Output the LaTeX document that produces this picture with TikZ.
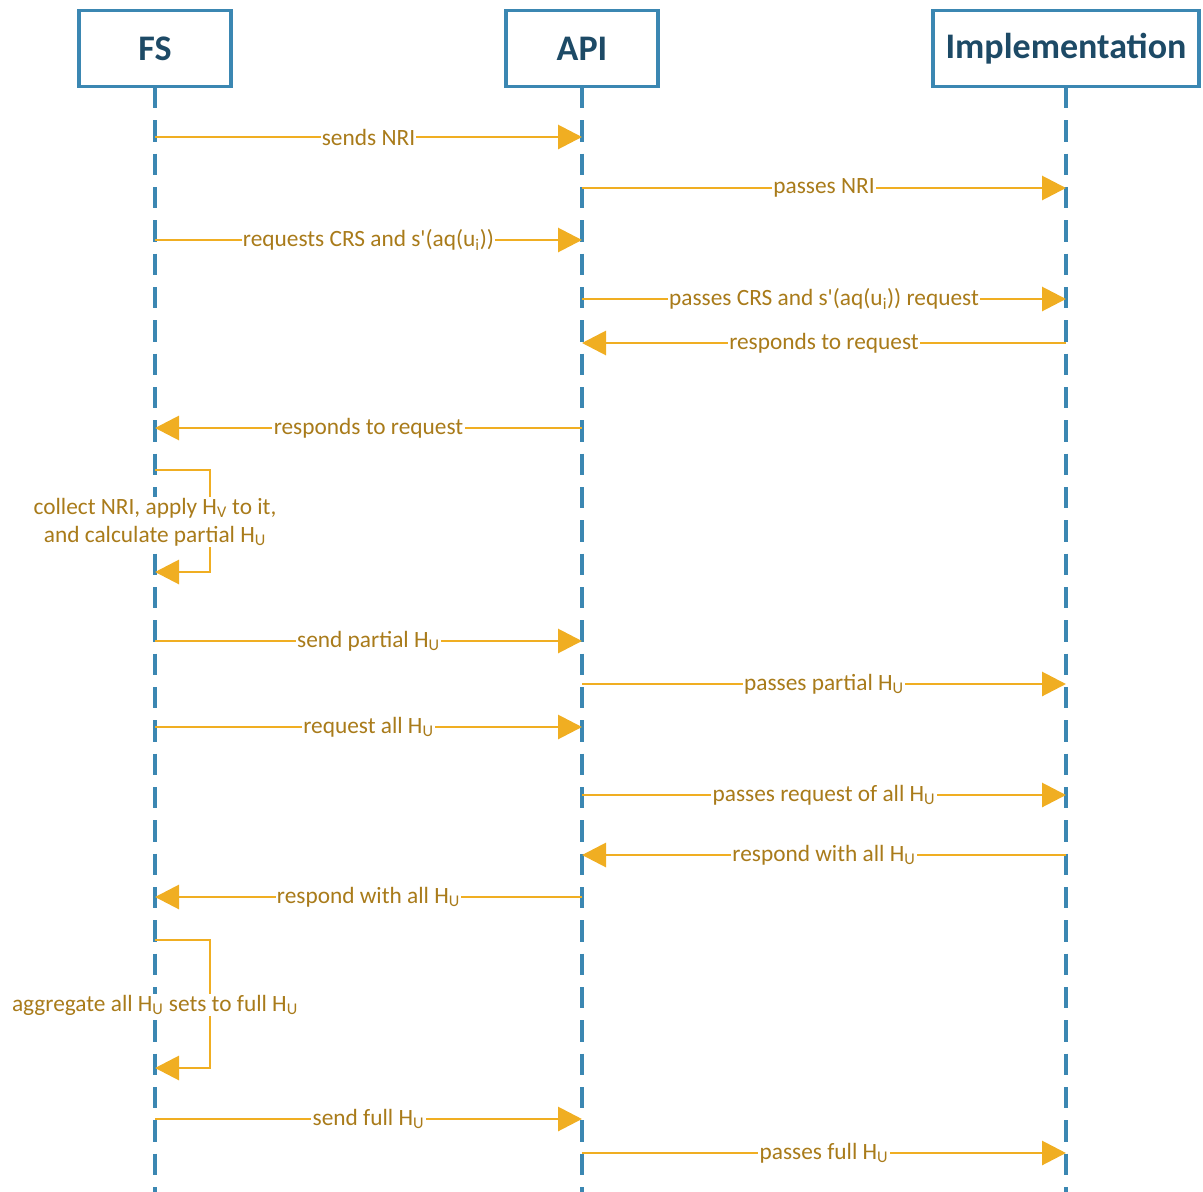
\documentclass[tikz,border=0pt]{standalone}
\usepackage{fontspec}
\setmainfont{Carlito}
\newfontfamily\plainfont{Carlito}
\usetikzlibrary{arrows.meta}
\definecolor{boxblue}{HTML}{3B87B2}
\definecolor{headtxt}{HTML}{1D4A66}
\definecolor{arr}{HTML}{F0AE22}
\definecolor{lbl}{HTML}{A97B1A}
\newcommand{\apos}{{\plainfont '}}
\tikzset{
  actor/.style={draw=boxblue, line width=2.4pt, fill=white, inner sep=0pt, font=\bfseries\fontsize{27}{30}\selectfont, text=headtxt},
  life/.style={draw=boxblue, line width=2.3pt, dash pattern=on 16pt off 9pt},
  msg/.style={draw=arr, line width=2.2pt, -{Triangle[length=18pt,width=18pt]}},
  lab/.style={fill=white, inner xsep=1pt, inner ysep=1pt, text=lbl, font=\fontsize{17.5}{21}\selectfont},
  note/.style={fill=white, inner sep=1pt, text=lbl, font=\fontsize{17.5}{21}\selectfont, align=center}
}
\begin{document}
\begin{tikzpicture}[x=0.75pt,y=-0.75pt]
\useasboundingbox (0,0) rectangle (1203,1192);
% lifelines
\coordinate (fsE) at (155,1192);
\coordinate (apiE) at (582,1192);
\coordinate (impE) at (1066,1192);
\draw[life] (155,87) -- (fsE);
\draw[life] (582,87) -- (apiE);
\draw[life] (1066,87) -- (impE);
% actors
\node[actor, minimum width=114pt, minimum height=56.5pt] (fs) at (155,48.5) {FS};
\node[actor, minimum width=114pt, minimum height=56.5pt] (api) at (582,48.5) {API};
\node[actor, minimum width=199.5pt, minimum height=56.5pt] (imp) at (1066,48.5) {Implementation};
% message anchor coordinates
\foreach \y [count=\i] in {137,188,240,299,343,428,470,572,641,684,727,795,855,897,940,1068,1119,1153} {
  \coordinate (f\i) at (155,\y);
  \coordinate (a\i) at (582,\y);
  \coordinate (m\i) at (1066,\y);
}
\draw[msg] (f1) -- node[lab]{sends NRI} (a1);
\draw[msg] (a2) -- node[lab]{passes NRI} (m2);
\draw[msg] (f3) -- node[lab]{requests CRS and s\apos(aq(u\textsubscript{i}))} (a3);
\draw[msg] (a4) -- node[lab]{passes CRS and s\apos(aq(u\textsubscript{i})) request} (m4);
\draw[msg] (m5) -- node[lab]{responds to request} (a5);
\draw[msg] (a6) -- node[lab]{responds to request} (f6);
% self loop 1
\coordinate (l1a) at (210,470);
\coordinate (l1b) at (210,572);
\draw[msg] (f7) -- (l1a) -- (l1b) -- (f8);
\node[note] (n1) at (155,522) {collect NRI, apply H\textsubscript{V} to it,\\and calculate partial H\textsubscript{U}};
\draw[msg] (f9) -- node[lab]{send partial H\textsubscript{U}} (a9);
\draw[msg] (a10) -- node[lab]{passes partial H\textsubscript{U}} (m10);
\draw[msg] (f11) -- node[lab]{request all H\textsubscript{U}} (a11);
\draw[msg] (a12) -- node[lab]{passes request of all H\textsubscript{U}} (m12);
\draw[msg] (m13) -- node[lab]{respond with all H\textsubscript{U}} (a13);
\draw[msg] (a14) -- node[lab]{respond with all H\textsubscript{U}} (f14);
% self loop 2
\coordinate (l2a) at (210,940);
\coordinate (l2b) at (210,1068);
\draw[msg] (f15) -- (l2a) -- (l2b) -- (f16);
\node[note] (n2) at (155,1005) {aggregate all H\textsubscript{U} sets to full H\textsubscript{U}};
\draw[msg] (f17) -- node[lab]{send full H\textsubscript{U}} (a17);
\draw[msg] (a18) -- node[lab]{passes full H\textsubscript{U}} (m18);
\end{tikzpicture}
\end{document}
